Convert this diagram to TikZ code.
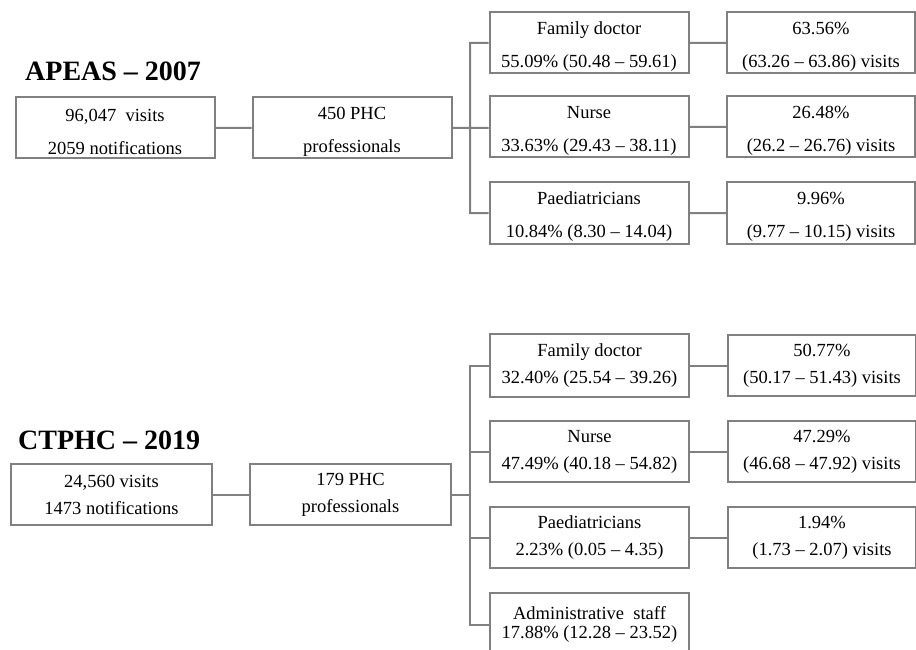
\documentclass[tikz,border=0pt]{standalone}
\usepackage{fontspec}
\setmainfont{Liberation Serif}
\usepackage{tikz}
\usetikzlibrary{positioning}

\tikzset{
  box/.style={draw=boxgray,line width=2pt,rectangle,inner sep=0pt,align=center,
    minimum height=61pt,font=\fontsize{18.5}{33}\selectfont},
  midbox/.style={box,minimum width=199pt},
  leftbox/.style={box,minimum width=199pt},
  rightbox/.style={box,minimum width=188pt},
  link/.style={draw=boxgray,line width=2pt},
  title/.style={anchor=base west,inner sep=0pt,font=\fontsize{28}{32}\selectfont\bfseries}
}
\definecolor{boxgray}{RGB}{128,128,128}

\begin{document}
\begin{tikzpicture}[x=1pt,y=-1pt]
    \useasboundingbox (0,0) rectangle (916,650);
    \begin{scope}[box/.append style={text height=53pt}]
      \node[title] (apeas) at (25,81) {APEAS -- 2007};
      \node[leftbox] (a1) at (115,128) {96,047\ \ visits\\2059 notifications};
      \node[leftbox] (a2) at (352,128) {450 PHC\\professionals};
      \node[midbox] (af) at (589,43) {Family doctor\\55.09\% (50.48 -- 59.61)};
      \node[midbox] (an) at (589,127) {Nurse\\33.63\% (29.43 -- 38.11)};
      \node[midbox] (ap) at (589,213) {Paediatricians\\10.84\% (8.30 -- 14.04)};
      \node[rightbox] (afv) at (821,43) {63.56\%\\(63.26 -- 63.86) visits};
      \node[rightbox] (anv) at (821,127) {26.48\%\\(26.2 -- 26.76) visits};
      \node[rightbox] (apv) at (821,213) {9.96\%\\(9.77 -- 10.15) visits};
      \coordinate (abus) at (470,128);
    \end{scope}
    \begin{scope}[box/.append style={font=\fontsize{18.5}{27}\selectfont}]
      \node[title] (ctphc) at (18,449) {CTPHC -- 2019};
      \node[leftbox,minimum width=201pt] (b1) at (111.5,494.5) {24,560 visits\\1473 notifications};
      \node[leftbox,minimum width=201pt] (b2) at (350.5,494.5) {179 PHC\\professionals};
      \node[midbox,minimum height=63pt] (bf) at (589.5,365.5) {Family doctor\\32.40\% (25.54 -- 39.26)};
      \node[midbox] (bn) at (589.5,451.5) {Nurse\\47.49\% (40.18 -- 54.82)};
      \node[midbox] (bp) at (589.5,537.5) {Paediatricians\\2.23\% (0.05 -- 4.35)};
      \node[midbox,minimum height=63pt,font=\fontsize{18.5}{19}\selectfont] (ba) at (589.5,624.5) {Administrative\ \ staff\\17.88\% (12.28 -- 23.52)};
      \node[rightbox] (bfv) at (822,365.5) {50.77\%\\(50.17 -- 51.43) visits};
      \node[rightbox] (bnv) at (822,451.5) {47.29\%\\(46.68 -- 47.92) visits};
      \node[rightbox] (bpv) at (822,537.5) {1.94\%\\(1.73 -- 2.07) visits};
      \coordinate (bbus) at (470,494.5);
    \end{scope}
    \path[link] (a1) -- (a2) (a2) -- (abus) (abus) -- (an)
      (af.west) -| (abus) |- (ap.west)
      (af) -- (afv) (an) -- (anv) (ap) -- (apv);
    \path[link] (b1) -- (b2) (b2) -- (bbus)
      (bf.west) -| (bbus) |- (ba.west)
      (bn.west) -- (bn.west -| bbus) (bp.west) -- (bp.west -| bbus)
      (bf) -- (bfv) (bn) -- (bnv) (bp) -- (bpv);
  \end{tikzpicture}
\end{document}
